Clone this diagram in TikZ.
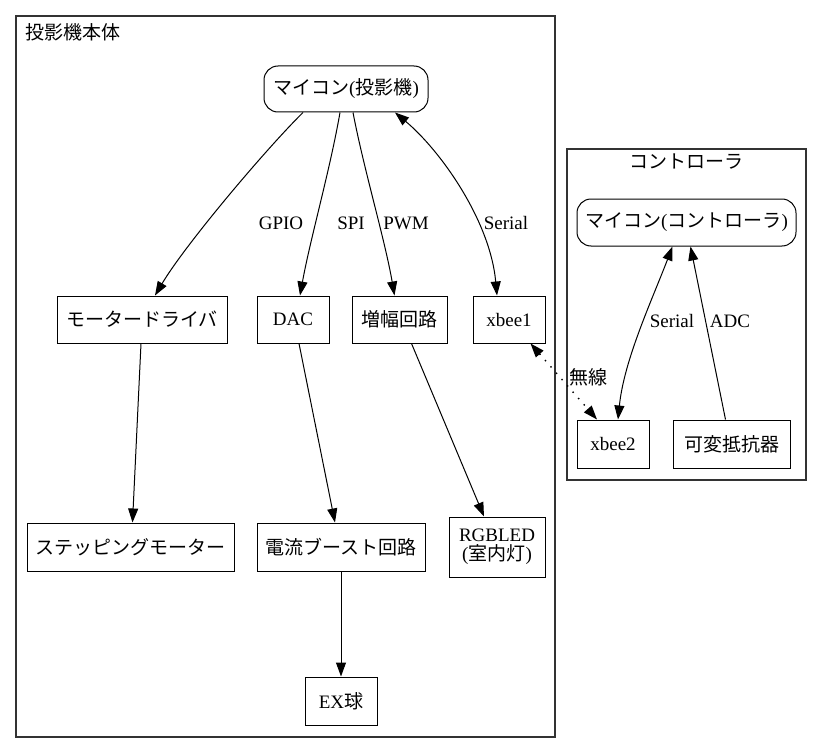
\documentclass[tikz,border=0pt]{standalone}
\usepackage{fontspec}
\setmainfont{Liberation Serif}
\newfontfamily\cjk{Noto Sans CJK JP}
\usetikzlibrary{arrows.meta}
\newcommand\jp[1]{{\cjk #1}}
\begin{document}
\begin{tikzpicture}[x=1pt,y=-1pt,
  font=\fontsize{19}{21}\selectfont,
  boxn/.style={draw, line width=1pt, inner sep=0pt},
  cluster/.style={draw, line width=1.2pt, black!80},
  arr/.style={line width=1pt, -{Triangle[length=14pt,width=10pt]}},
  barr/.style={line width=1pt, {Triangle[length=14pt,width=10pt]}-{Triangle[length=14pt,width=10pt]}},
  lbl/.style={inner sep=0pt}]
\useasboundingbox (0,0) rectangle (823,752);
% clusters
\draw[cluster] (16,16) rectangle (555,737);
\draw[cluster] (567,149) rectangle (806,480);
\node[lbl, anchor=west] (c1) at (25,32) {\jp{投影機本体}};
\node[lbl] (c2) at (686,162) {\jp{コントローラ}};
% nodes
\node[boxn, rounded corners=14pt, minimum width=164, minimum height=46] (mp) at (346,89) {\jp{マイコン}(\jp{投影機})};
\node[boxn, minimum width=170, minimum height=47] (motor) at (142,319.5) {\jp{モータードライバ}};
\node[boxn, minimum width=72, minimum height=47] (dac) at (293,319.5) {DAC};
\node[boxn, minimum width=95, minimum height=47] (amp) at (399.5,319.5) {\jp{増幅回路}};
\node[boxn, minimum width=72, minimum height=47] (xb1) at (509,319.5) {xbee1};
\node[boxn, minimum width=207, minimum height=48] (step) at (130.5,547) {\jp{ステッピングモーター}};
\node[boxn, minimum width=168, minimum height=48] (boost) at (341,547) {\jp{電流ブースト回路}};
\node[boxn, minimum width=96, minimum height=60, align=center] (rgb) at (497,547) {RGBLED\\[-2pt](\jp{室内灯})};
\node[boxn, minimum width=72, minimum height=48] (ex) at (341,701) {EX\jp{球}};
\node[boxn, rounded corners=14pt, minimum width=219, minimum height=47] (mc) at (686.5,222.5) {\jp{マイコン}(\jp{コントローラ})};
\node[boxn, minimum width=72, minimum height=48] (xb2) at (613,444) {xbee2};
\node[boxn, minimum width=117, minimum height=48] (pot) at (731.5,444) {\jp{可変抵抗器}};
% edges
\draw[arr] ([xshift=-43pt]mp.south) .. controls (265,150) and (185,245) .. ([xshift=13pt]motor.north);
\draw[arr] ([xshift=-6pt]mp.south) .. controls (330,170) and (310,240) .. ([xshift=7pt]dac.north);
\draw[arr] ([xshift=7pt]mp.south) .. controls (364,170) and (385,240) .. ([xshift=-5pt]amp.north);
\draw[barr] ([xshift=49pt]mp.south) .. controls (440,150) and (490,220) .. ([xshift=-12pt]xb1.north);
\draw[arr] ([xshift=-1pt]motor.south) -- ([xshift=2pt]step.north);
\draw[arr] ([xshift=6pt]dac.south) -- ([xshift=-6pt]boost.north);
\draw[arr] ([xshift=12pt]amp.south) -- ([xshift=-13pt]rgb.north);
\draw[arr] (boost.south) -- (ex.north);
\draw[barr, line width=1.4pt, dash pattern=on 1.4pt off 7pt] ([xshift=-15pt]xb1.south east) -- ([xshift=-16pt]xb2.north);
\draw[barr] ([xshift=-14pt]mc.south) .. controls (652,300) and (624,360) .. ([xshift=5pt]xb2.north);
\draw[arr] ([xshift=-6pt]pot.north) -- ([xshift=4pt]mc.south);
% edge labels
\node[lbl] (lgpio) at (281,223) {GPIO};
\node[lbl] (lspi) at (351,223) {SPI};
\node[lbl] (lpwm) at (406,223) {PWM};
\node[lbl] (lser1) at (506,223) {Serial};
\node[lbl] (lmusen) at (588,377) {\jp{無線}};
\node[lbl] (lser2) at (672,321) {Serial};
\node[lbl] (ladc) at (730,321) {ADC};
\end{tikzpicture}
\end{document}
